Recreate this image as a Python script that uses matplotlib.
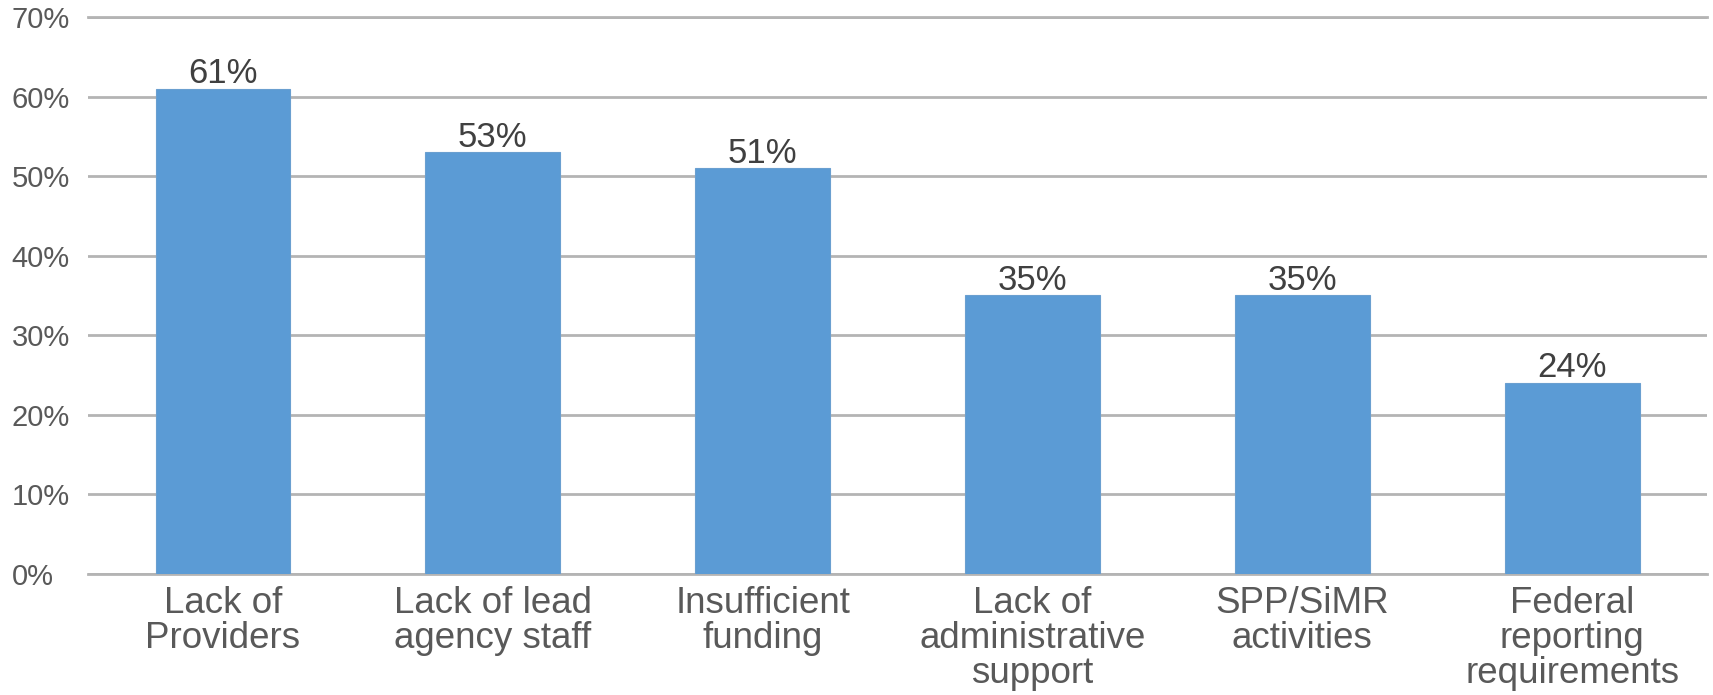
import matplotlib.pyplot as plt

# Barreras reportadas (porcentaje de respuestas)
categorias = ['Lack of\nProviders', 'Lack of lead\nagency staff', 'Insufficient\nfunding',
              'Lack of\nadministrative\nsupport', 'SPP/SiMR\nactivities',
              'Federal\nreporting\nrequirements']
porcentajes = [61, 53, 51, 35, 35, 24]
marcas_y = [0, 10, 20, 30, 40, 50, 60, 70]

plt.rcParams['font.family'] = ['Liberation Sans', 'DejaVu Sans']

fig = plt.figure(figsize=(17.13, 6.95), dpi=100)
ax = fig.add_axes([0.0514, 0.1748, 0.9451, 0.8007])

x = range(len(categorias))
ax.bar(x, porcentajes, width=0.5, color='#5B9BD5', edgecolor='#6A9FD0',
       linewidth=0.8, zorder=3)

# Etiquetas de valor sobre cada barra
for xi, v in zip(x, porcentajes):
    ax.annotate(f'{v}%', (xi, v), xytext=(0, 4), textcoords='offset points',
                ha='center', va='baseline', fontsize=25, color='#404040')

ax.set_xlim(-0.5, len(categorias) - 0.5)
ax.set_ylim(0, 70)
ax.set_yticks(marcas_y)
ax.set_yticklabels([f'{m}%' for m in marcas_y], fontsize=21, color='#595959',
                   ha='left')
ax.tick_params(axis='y', length=0, pad=55)
ax.set_xticks(list(x))
ax.set_xticklabels(categorias, fontsize=26.5, color='#595959', linespacing=1.0)
ax.tick_params(axis='x', length=0, pad=9)

ax.grid(axis='y', color='#B4B4B4', linewidth=2, zorder=0)
# lineas de los bordes completas (sin recorte)
for borde in (marcas_y[0], marcas_y[-1]):
    ax.axhline(borde, color='#B4B4B4', linewidth=2, clip_on=False, zorder=2)
for lado in ['top', 'right', 'left', 'bottom']:
    ax.spines[lado].set_visible(False)

fig.savefig('out.png', dpi=100)
